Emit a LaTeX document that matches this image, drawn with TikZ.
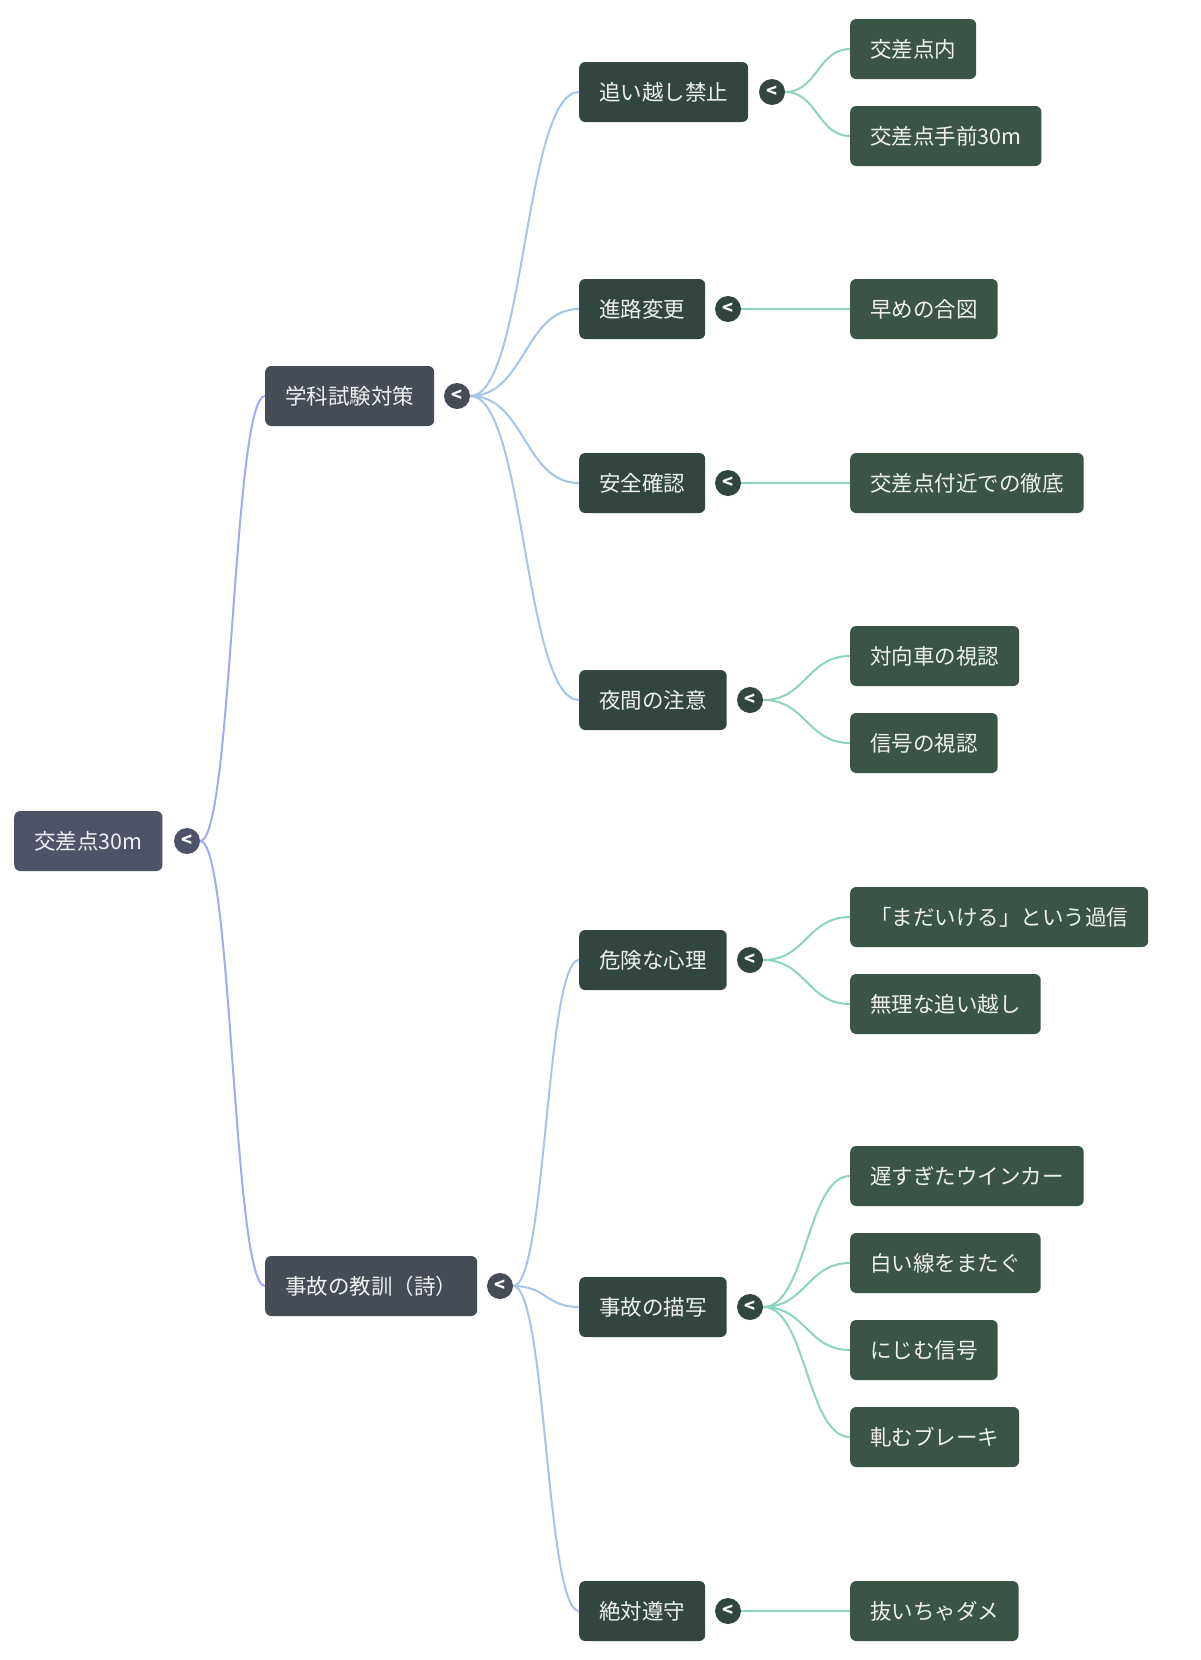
\documentclass[tikz,border=0pt]{standalone}
\usepackage{fontspec}
\setmainfont{Noto Sans CJK JP}
\usepackage{tikz}

\definecolor{rootfill}{HTML}{4F5367}
\definecolor{onefill}{HTML}{454C56}
\definecolor{twofill}{HTML}{33453F}
\definecolor{threefill}{HTML}{3A5445}
\definecolor{lkzero}{HTML}{A2A9F6}
\definecolor{lkone}{HTML}{A6C4E6}
\definecolor{lktwo}{HTML}{8ED3C0}

\tikzset{
  box/.style={rounded corners=6pt,minimum height=60pt,inner xsep=20pt,anchor=west,
    text=white!94!black,font=\fontsize{21.5}{25}\selectfont},
  dot/.style={circle,minimum size=26pt,inner sep=0pt,text=white,
    font=\fontsize{18}{18}\selectfont\bfseries},
  lk/.style={line width=2pt}
}

\begin{document}
\begin{tikzpicture}[x=1pt,y=-1pt]
      \useasboundingbox (0,0) rectangle (1200,1660);

      % root
      \node[box,fill=rootfill] (r) at (14,841){交差点30m};
      \node[dot,fill=rootfill] (cr) at (187,841){<};

      % first level
      \node[box,fill=onefill] (a) at (265,396){学科試験対策};
      \node[dot,fill=onefill] (ca) at (457,396){<};
      \node[box,fill=onefill] (b) at (265,1286){事故の教訓（詩）};
      \node[dot,fill=onefill] (cb) at (500,1286){<};

      % second level
      \node[box,fill=twofill] (a1) at (579,92){追い越し禁止};
      \node[dot,fill=twofill] (ca1) at (772,92){<};
      \node[box,fill=twofill] (a2) at (579,309){進路変更};
      \node[dot,fill=twofill] (ca2) at (728,309){<};
      \node[box,fill=twofill] (a3) at (579,483){安全確認};
      \node[dot,fill=twofill] (ca3) at (728,483){<};
      \node[box,fill=twofill] (a4) at (579,700){夜間の注意};
      \node[dot,fill=twofill] (ca4) at (750,700){<};
      \node[box,fill=twofill] (b1) at (579,960){危険な心理};
      \node[dot,fill=twofill] (cb1) at (750,960){<};
      \node[box,fill=twofill] (b2) at (579,1307){事故の描写};
      \node[dot,fill=twofill] (cb2) at (750,1307){<};
      \node[box,fill=twofill] (b3) at (579,1611){絶対遵守};
      \node[dot,fill=twofill] (cb3) at (728,1611){<};

      % leaves
      \node[box,fill=threefill] (l1) at (850,49){交差点内};
      \node[box,fill=threefill] (l2) at (850,136){交差点手前30m};
      \node[box,fill=threefill] (l3) at (850,309){早めの合図};
      \node[box,fill=threefill] (l4) at (850,483){交差点付近での徹底};
      \node[box,fill=threefill] (l5) at (850,656){対向車の視認};
      \node[box,fill=threefill] (l6) at (850,743){信号の視認};
      \node[box,fill=threefill] (l7) at (850,917){「まだいける」という過信};
      \node[box,fill=threefill] (l8) at (850,1004){無理な追い越し};
      \node[box,fill=threefill] (l9) at (850,1176){遅すぎたウインカー};
      \node[box,fill=threefill] (l10) at (850,1263){白い線をまたぐ};
      \node[box,fill=threefill] (l11) at (850,1350){にじむ信号};
      \node[box,fill=threefill] (l12) at (850,1437){軋むブレーキ};
      \node[box,fill=threefill] (l13) at (850,1611){抜いちゃダメ};

      \draw[lk,lkzero] (cr.east) .. controls +(32,0) and +(-32,0) .. (a.west);
      \draw[lk,lkzero] (cr.east) .. controls +(32,0) and +(-32,0) .. (b.west);

      \draw[lk,lkone] (ca.east) .. controls +(55,0) and +(-55,0) .. (a1.west);
      \draw[lk,lkone] (ca.east) .. controls +(55,0) and +(-55,0) .. (a2.west);
      \draw[lk,lkone] (ca.east) .. controls +(55,0) and +(-55,0) .. (a3.west);
      \draw[lk,lkone] (ca.east) .. controls +(55,0) and +(-55,0) .. (a4.west);
      \draw[lk,lkone] (cb.east) .. controls +(33,0) and +(-33,0) .. (b1.west);
      \draw[lk,lkone] (cb.east) .. controls +(33,0) and +(-33,0) .. (b2.west);
      \draw[lk,lkone] (cb.east) .. controls +(33,0) and +(-33,0) .. (b3.west);

      \draw[lk,lktwo] (ca1.east) .. controls +(32,0) and +(-32,0) .. (l1.west);
      \draw[lk,lktwo] (ca1.east) .. controls +(32,0) and +(-32,0) .. (l2.west);
      \draw[lk,lktwo] (ca2.east) -- (l3.west);
      \draw[lk,lktwo] (ca3.east) -- (l4.west);
      \draw[lk,lktwo] (ca4.east) .. controls +(43,0) and +(-43,0) .. (l5.west);
      \draw[lk,lktwo] (ca4.east) .. controls +(43,0) and +(-43,0) .. (l6.west);
      \draw[lk,lktwo] (cb1.east) .. controls +(43,0) and +(-43,0) .. (l7.west);
      \draw[lk,lktwo] (cb1.east) .. controls +(43,0) and +(-43,0) .. (l8.west);
      \draw[lk,lktwo] (cb2.east) .. controls +(43,0) and +(-43,0) .. (l9.west);
      \draw[lk,lktwo] (cb2.east) .. controls +(43,0) and +(-43,0) .. (l10.west);
      \draw[lk,lktwo] (cb2.east) .. controls +(43,0) and +(-43,0) .. (l11.west);
      \draw[lk,lktwo] (cb2.east) .. controls +(43,0) and +(-43,0) .. (l12.west);
      \draw[lk,lktwo] (cb3.east) -- (l13.west);
\end{tikzpicture}
\end{document}
